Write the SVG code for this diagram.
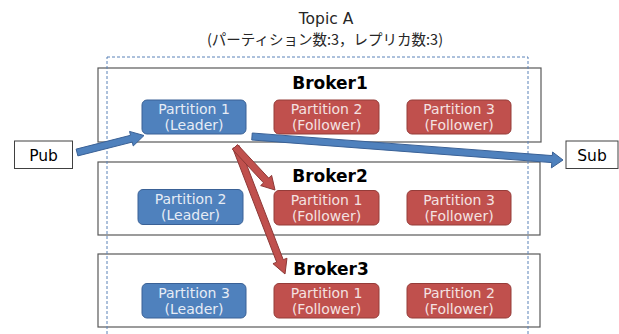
<svg xmlns="http://www.w3.org/2000/svg" width="619" height="334" viewBox="0 0 619 334">
<style>
.broker{fill:#ffffff;stroke:#595959;stroke-width:1.2}
.blabel{font-family:"DejaVu Sans",sans-serif;font-weight:bold;font-size:17px;fill:#000;text-anchor:middle}
.leader{fill:#4f81bd;stroke:#3a6196;stroke-width:1}
.follower{fill:#c0504d;stroke:#953c39;stroke-width:1}
.ptext{font-family:"DejaVu Sans",sans-serif;font-size:14px;text-anchor:middle}
.lt{fill:#e6ecf5}
.ft{fill:#f4e2e1}
.ext{fill:#fff;stroke:#404040;stroke-width:1}
.extt{font-family:"DejaVu Sans",sans-serif;font-size:15.5px;fill:#000;text-anchor:middle}
.title{fill:#262626;text-anchor:middle}
.barrow{fill:#4f81bd;stroke:#3a6196;stroke-width:1;stroke-linejoin:miter}
.rarrow{fill:#c0504d;stroke:#8c3836;stroke-width:1;stroke-linejoin:miter}
</style>
<rect width="619" height="334" fill="#ffffff"/>
<g id="title">
<text class="title" x="326" y="24" font-size="15.5" font-family="DejaVu Sans, sans-serif">Topic A</text>
<text class="title" x="325" y="45" font-size="14.5" font-family="Noto Sans CJK JP, DejaVu Sans, sans-serif">(パーティション数:3，レプリカ数:3)</text>
</g>
<g id="broker1">
<rect class="broker" x="98" y="68" width="443" height="74"/>
<text class="blabel" x="330" y="89">Broker1</text>
</g>
<g id="broker2">
<rect class="broker" x="98" y="162" width="442" height="73"/>
<text class="blabel" x="330" y="181.5">Broker2</text>
</g>
<g id="broker3">
<rect class="broker" x="98" y="254" width="442" height="73"/>
<text class="blabel" x="331" y="275">Broker3</text>
</g>
<g id="topic-a">
<rect x="107" y="57" width="421" height="290" fill="none" stroke="#5b82b8" stroke-width="1" stroke-dasharray="3,2"/>
</g>
<g id="b1-p1">
<rect class="leader" x="142" y="100" width="104" height="34" rx="5"/>
<text class="ptext lt" x="194" y="114">Partition 1</text>
<text class="ptext lt" x="194" y="130">(Leader)</text>
</g>
<g id="b1-p2">
<rect class="follower" x="274" y="100" width="105" height="34" rx="5"/>
<text class="ptext ft" x="326.5" y="114">Partition 2</text>
<text class="ptext ft" x="326.5" y="130">(Follower)</text>
</g>
<g id="b1-p3">
<rect class="follower" x="407" y="100" width="104" height="34" rx="5"/>
<text class="ptext ft" x="459" y="114">Partition 3</text>
<text class="ptext ft" x="459" y="130">(Follower)</text>
</g>
<g id="b2-p2">
<rect class="leader" x="138" y="189.5" width="105" height="35" rx="5"/>
<text class="ptext lt" x="190.5" y="204">Partition 2</text>
<text class="ptext lt" x="190.5" y="220">(Leader)</text>
</g>
<g id="b2-p1">
<rect class="follower" x="274" y="190.5" width="105" height="34.5" rx="5"/>
<text class="ptext ft" x="326.5" y="205">Partition 1</text>
<text class="ptext ft" x="326.5" y="221">(Follower)</text>
</g>
<g id="b2-p3">
<rect class="follower" x="407" y="190.5" width="104" height="34.5" rx="5"/>
<text class="ptext ft" x="459" y="205">Partition 3</text>
<text class="ptext ft" x="459" y="221">(Follower)</text>
</g>
<g id="b3-p3">
<rect class="leader" x="142" y="283.5" width="104" height="34.5" rx="5"/>
<text class="ptext lt" x="194" y="298">Partition 3</text>
<text class="ptext lt" x="194" y="314">(Leader)</text>
</g>
<g id="b3-p1">
<rect class="follower" x="274" y="283.5" width="105" height="34.5" rx="5"/>
<text class="ptext ft" x="326.5" y="298">Partition 1</text>
<text class="ptext ft" x="326.5" y="314">(Follower)</text>
</g>
<g id="b3-p2">
<rect class="follower" x="407" y="283.5" width="104" height="34.5" rx="5"/>
<text class="ptext ft" x="459" y="298">Partition 2</text>
<text class="ptext ft" x="459" y="314">(Follower)</text>
</g>
<g id="pub">
<rect class="ext" x="14.5" y="141" width="58" height="27.5"/>
<text class="extt" x="43.5" y="160.5">Pub</text>
</g>
<g id="sub">
<rect class="ext" x="566" y="141" width="52" height="27.5"/>
<text class="extt" x="592" y="160.5">Sub</text>
</g>
<g id="connectors">
<polygon class="barrow" points="77.86,155.89 132.26,142.09 133.24,145.97 144,135.5 129.56,131.43 130.54,135.31 76.14,149.11"/>
<polygon class="barrow" points="251.74,139.99 551.8,162.6 551.4,167.9 563,160 552.6,152 552.3,155.6 252.26,133.01"/>
<polygon class="rarrow" points="239.27,145.74 283.23,259.68 286.96,258.24 285,274 272.96,263.64 276.69,262.2 232.73,148.26"/>
<polygon class="rarrow" points="237.56,144.62 268.71,178.1 271.64,175.38 275,190 260.66,185.59 263.59,182.87 232.44,149.38"/>
</g>
</svg>
